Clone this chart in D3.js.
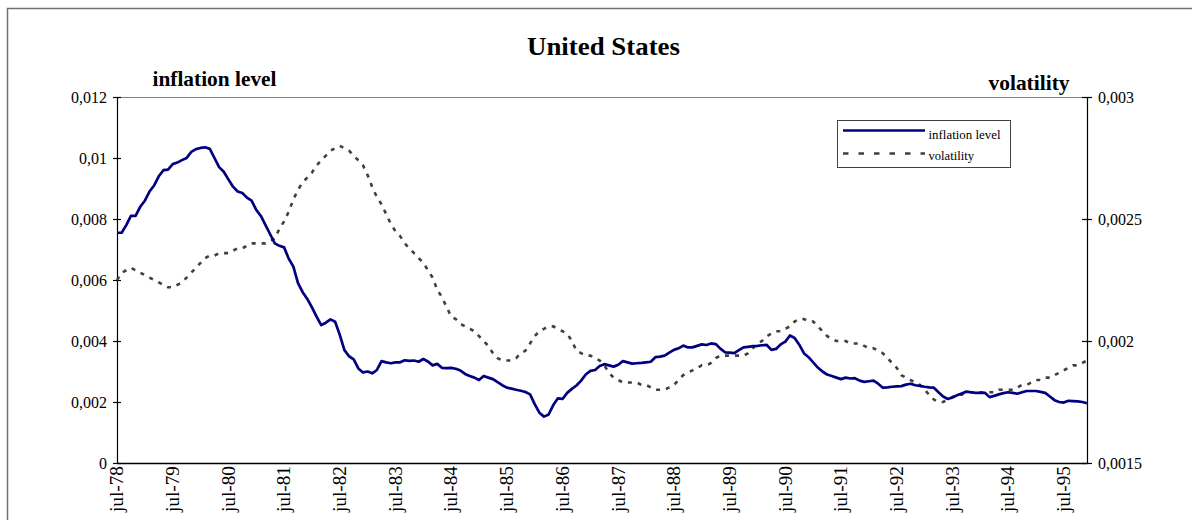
<!DOCTYPE html>
<html>
<head>
<meta charset="utf-8">
<script src="https://cdn.jsdelivr.net/npm/d3@7"></script>
<style>
  html, body { margin: 0; padding: 0; background: #fff; }
  svg { display: block; }
  text { font-family: "Liberation Serif", "Times New Roman", serif; fill: #000; }
</style>
</head>
<body>
<svg id="chart" width="1192" height="520"></svg>
<script>
// ---- Data (monthly, Jul-78 .. Dec-95) ----
const startMonth = new Date(1978, 6, 1);
const endMonth = new Date(1996, 0, 1);
const categories = d3.timeMonth.range(startMonth, endMonth); // 210 months

const inflationLevel = [
  0.00755,0.00755,0.0078,0.0081,0.0081,0.0084,0.0086,0.0089,0.0091,0.0094,0.0096,0.00962,
  0.0098,0.00985,0.00993,0.0100,0.0102,0.01029,0.01033,0.01035,0.0103,0.0100,0.0097,0.00955,
  0.0093,0.00906,0.0089,0.00885,0.0087,0.0086,0.0083,0.0081,0.0078,0.0075,0.0072,0.00712,
  0.00707,0.0067,0.00644,0.0059,0.0056,0.00538,0.0051,0.0048,0.00452,0.0046,0.00471,0.00463,
  0.0042,0.0037,0.0035,0.0034,0.0031,0.00297,0.0030,0.00294,0.00305,0.00334,0.0033,0.00327,
  0.0033,0.0033,0.00337,0.00335,0.00336,0.00332,0.00341,0.00333,0.0032,0.00325,0.00312,0.00311,
  0.00312,0.00309,0.00303,0.00292,0.00285,0.0028,0.00272,0.00285,0.0028,0.00275,0.00265,0.00255,
  0.00247,0.00244,0.0024,0.00237,0.00233,0.00225,0.00193,0.00165,0.00152,0.00159,0.0019,0.00212,
  0.0021,0.0023,0.00243,0.00254,0.0027,0.0029,0.00302,0.00305,0.00318,0.00324,0.0032,0.00316,
  0.00322,0.00334,0.0033,0.00326,0.00327,0.00328,0.0033,0.00332,0.00347,0.00349,0.00352,0.00362,
  0.00371,0.00376,0.00385,0.00379,0.00379,0.00384,0.00389,0.00387,0.00392,0.0039,0.00375,0.00363,
  0.00362,0.0036,0.0037,0.00379,0.00381,0.00383,0.00384,0.00386,0.00387,0.00371,0.00374,0.00389,
  0.00398,0.00418,0.0041,0.00388,0.0036,0.00347,0.0033,0.00313,0.0030,0.0029,0.00285,0.0028,
  0.00275,0.0028,0.00277,0.00278,0.0027,0.00266,0.00268,0.0027,0.0026,0.00247,0.00248,0.0025,
  0.00251,0.00252,0.00257,0.0026,0.00255,0.00253,0.0025,0.00248,0.00247,0.00232,0.00218,0.0021,
  0.00215,0.00222,0.00228,0.00234,0.00232,0.0023,0.0023,0.0023,0.00216,0.0022,0.00225,0.00229,
  0.00232,0.0023,0.00227,0.00232,0.00236,0.00236,0.00236,0.00233,0.0023,0.00218,0.00206,0.0020,
  0.00198,0.00204,0.00203,0.00202,0.0020,0.00196
];

const volatility = [
  0.00225,0.00228,0.00229,0.0023,0.00229,0.00228,0.00227,0.00226,0.00225,0.00224,0.00223,0.00222,
  0.00222,0.00223,0.00224,0.00226,0.00228,0.0023,0.00232,0.00234,0.00235,0.00235,0.00236,0.00236,
  0.00236,0.00237,0.00238,0.00238,0.00239,0.0024,0.0024,0.0024,0.0024,0.00241,0.00242,0.00246,
  0.00249,0.00253,0.00258,0.00262,0.00265,0.00267,0.00269,0.00272,0.00274,0.00276,0.00278,0.00279,
  0.0028,0.00279,0.00278,0.00276,0.00274,0.00272,0.00268,0.00263,0.00259,0.00256,0.00252,0.00248,
  0.00245,0.00243,0.0024,0.00238,0.00236,0.00234,0.00232,0.00229,0.00226,0.00221,0.00218,0.00214,
  0.0021,0.00209,0.00207,0.00206,0.00205,0.00204,0.00202,0.0020,0.00198,0.00195,0.00193,0.00192,
  0.00192,0.00192,0.00193,0.00195,0.00196,0.00199,0.00202,0.00204,0.00205,0.00206,0.00206,0.00205,
  0.00204,0.00203,0.0020,0.00196,0.00195,0.00194,0.00194,0.00193,0.00192,0.0019,0.00187,0.00185,
  0.00184,0.00183,0.00183,0.00183,0.00183,0.00182,0.00182,0.00181,0.0018,0.0018,0.0018,0.00181,
  0.00182,0.00184,0.00186,0.00187,0.00188,0.00189,0.0019,0.0019,0.00191,0.00193,0.00194,0.00194,
  0.00194,0.00194,0.00194,0.00194,0.00195,0.00197,0.00199,0.0020,0.00202,0.00203,0.00204,0.00204,
  0.00205,0.00206,0.00208,0.00209,0.00209,0.00208,0.00208,0.00206,0.00204,0.00202,0.00201,0.0020,
  0.0020,0.0020,0.00199,0.00199,0.00199,0.00198,0.00197,0.00197,0.00196,0.00195,0.00193,0.00191,
  0.00189,0.00186,0.00185,0.00184,0.00183,0.00182,0.0018,0.00178,0.00176,0.00175,0.00175,0.00176,
  0.00177,0.00178,0.00178,0.00179,0.00179,0.00179,0.00179,0.00179,0.00179,0.00179,0.0018,0.0018,
  0.0018,0.0018,0.00181,0.00182,0.00182,0.00183,0.00184,0.00184,0.00185,0.00185,0.00186,0.00187,
  0.00188,0.00189,0.0019,0.0019,0.00191,0.00192
];

const xTickLabels = ["jul-78","jul-79","jul-80","jul-81","jul-82","jul-83","jul-84","jul-85","jul-86",
                     "jul-87","jul-88","jul-89","jul-90","jul-91","jul-92","jul-93","jul-94","jul-95"];
const leftTicks = [0, 0.002, 0.004, 0.006, 0.008, 0.01, 0.012];
const leftTickLabels = ["0","0,002","0,004","0,006","0,008","0,01","0,012"];
const rightTicks = [0.0015, 0.002, 0.0025, 0.003];
const rightTickLabels = ["0,0015","0,002","0,0025","0,003"];
const seriesNames = ["inflation level", "volatility"];

// ---- Layout ----
const W = 1192, H = 520;
const plot = { left: 117, right: 1087, top: 97, bottom: 463 };
const blue = "#000080", gray = "#404040";

const svg = d3.select("#chart");

// outer chart border (extends beyond the visible area like the reference)
svg.append("rect")
  .attr("x", 7.5).attr("y", 8.5).attr("width", 1300).attr("height", 700)
  .attr("fill", "none").attr("stroke", "#707070").attr("stroke-width", 1.5);

const x = d3.scalePoint().domain(d3.range(categories.length)).range([plot.left, plot.right]).padding(0);
const yL = d3.scaleLinear().domain([0, 0.012]).range([plot.bottom, plot.top]);
const yR = d3.scaleLinear().domain([0.0015, 0.003]).range([plot.bottom, plot.top]);

// plot area top border
svg.append("line")
  .attr("x1", plot.left).attr("x2", plot.right)
  .attr("y1", plot.top + 0.5).attr("y2", plot.top + 0.5)
  .attr("stroke", "#808080").attr("stroke-width", 1);

// Left axis
const gL = svg.append("g").attr("transform", `translate(${plot.left},0)`)
  .call(d3.axisLeft(yL).tickValues(leftTicks)
        .tickFormat((d, i) => leftTickLabels[i]).tickSize(0).tickPadding(10));
gL.select(".domain").attr("stroke", "#000").attr("stroke-width", 1.2);
gL.selectAll(".tick line").attr("x1", -4).attr("x2", 4).attr("stroke", "#000").attr("stroke-width", 1.2);
gL.selectAll(".tick text").style("font-family", '"Liberation Serif", serif').style("font-size", "16px")
  .attr("dy", "0.33em");

// Right axis
const gR = svg.append("g").attr("transform", `translate(${plot.right},0)`)
  .call(d3.axisRight(yR).tickValues(rightTicks)
        .tickFormat((d, i) => rightTickLabels[i]).tickSize(0).tickPadding(11));
gR.select(".domain").attr("stroke", "#000").attr("stroke-width", 1.2);
gR.selectAll(".tick line").attr("x1", -5).attr("x2", 5).attr("stroke", "#000").attr("stroke-width", 1.2);
gR.selectAll(".tick text").style("font-family", '"Liberation Serif", serif').style("font-size", "16px")
  .attr("dy", "0.33em");

// Bottom axis
const xTickIdx = d3.range(0, categories.length, 12);
const gB = svg.append("g").attr("transform", `translate(0,${plot.bottom})`)
  .call(d3.axisBottom(x).tickValues(xTickIdx).tickFormat((d, i) => xTickLabels[i]).tickSize(0));
gB.select(".domain").attr("stroke", "#000").attr("stroke-width", 1.6);
gB.selectAll(".tick text")
  .style("font-family", '"Liberation Serif", serif').style("font-size", "18px")
  .attr("transform", "rotate(-90)")
  .attr("text-anchor", "end")
  .attr("x", -3).attr("y", 0).attr("dy", "0.32em")
  .attr("textLength", 46).attr("lengthAdjust", "spacingAndGlyphs");

// Lines
const lineL = d3.line().x((d, i) => x(i)).y(d => yL(d));
const lineR = d3.line().x((d, i) => x(i)).y(d => yR(d));

svg.append("path").datum(volatility)
  .attr("d", lineR).attr("fill", "none")
  .attr("stroke", gray).attr("stroke-width", 2.6).attr("stroke-dasharray", "4,6");

svg.append("path").datum(inflationLevel)
  .attr("d", lineL).attr("fill", "none")
  .attr("stroke", blue).attr("stroke-width", 2.7).attr("stroke-linejoin", "round");

// Titles
svg.append("text").text("United States")
  .attr("x", 603.5).attr("y", 55).attr("text-anchor", "middle")
  .style("font-weight", "bold").style("font-size", "26px")
  .attr("textLength", 153).attr("lengthAdjust", "spacingAndGlyphs");

svg.append("text").text("inflation level")
  .attr("x", 152.5).attr("y", 86)
  .style("font-weight", "bold").style("font-size", "21px")
  .attr("textLength", 124).attr("lengthAdjust", "spacingAndGlyphs");

svg.append("text").text("volatility")
  .attr("x", 988.5).attr("y", 90)
  .style("font-weight", "bold").style("font-size", "21px")
  .attr("textLength", 81).attr("lengthAdjust", "spacingAndGlyphs");

// Legend
const lg = svg.append("g");
lg.append("rect").attr("x", 837.5).attr("y", 120.5).attr("width", 173).attr("height", 47)
  .attr("fill", "#fff").attr("stroke", "#404040").attr("stroke-width", 1);
lg.append("line").attr("x1", 843).attr("x2", 925).attr("y1", 130.5).attr("y2", 130.5)
  .attr("stroke", blue).attr("stroke-width", 2.7);
lg.append("line").attr("x1", 843).attr("x2", 925).attr("y1", 153.5).attr("y2", 153.5)
  .attr("stroke", gray).attr("stroke-width", 2.6).attr("stroke-dasharray", "5.5,10");
lg.append("text").text(seriesNames[0]).attr("x", 928.5).attr("y", 138.5)
  .style("font-size", "13.5px").attr("textLength", 72).attr("lengthAdjust", "spacingAndGlyphs");
lg.append("text").text(seriesNames[1]).attr("x", 928.5).attr("y", 159.5)
  .style("font-size", "13.5px").attr("textLength", 45.5).attr("lengthAdjust", "spacingAndGlyphs");
</script>
</body>
</html>
